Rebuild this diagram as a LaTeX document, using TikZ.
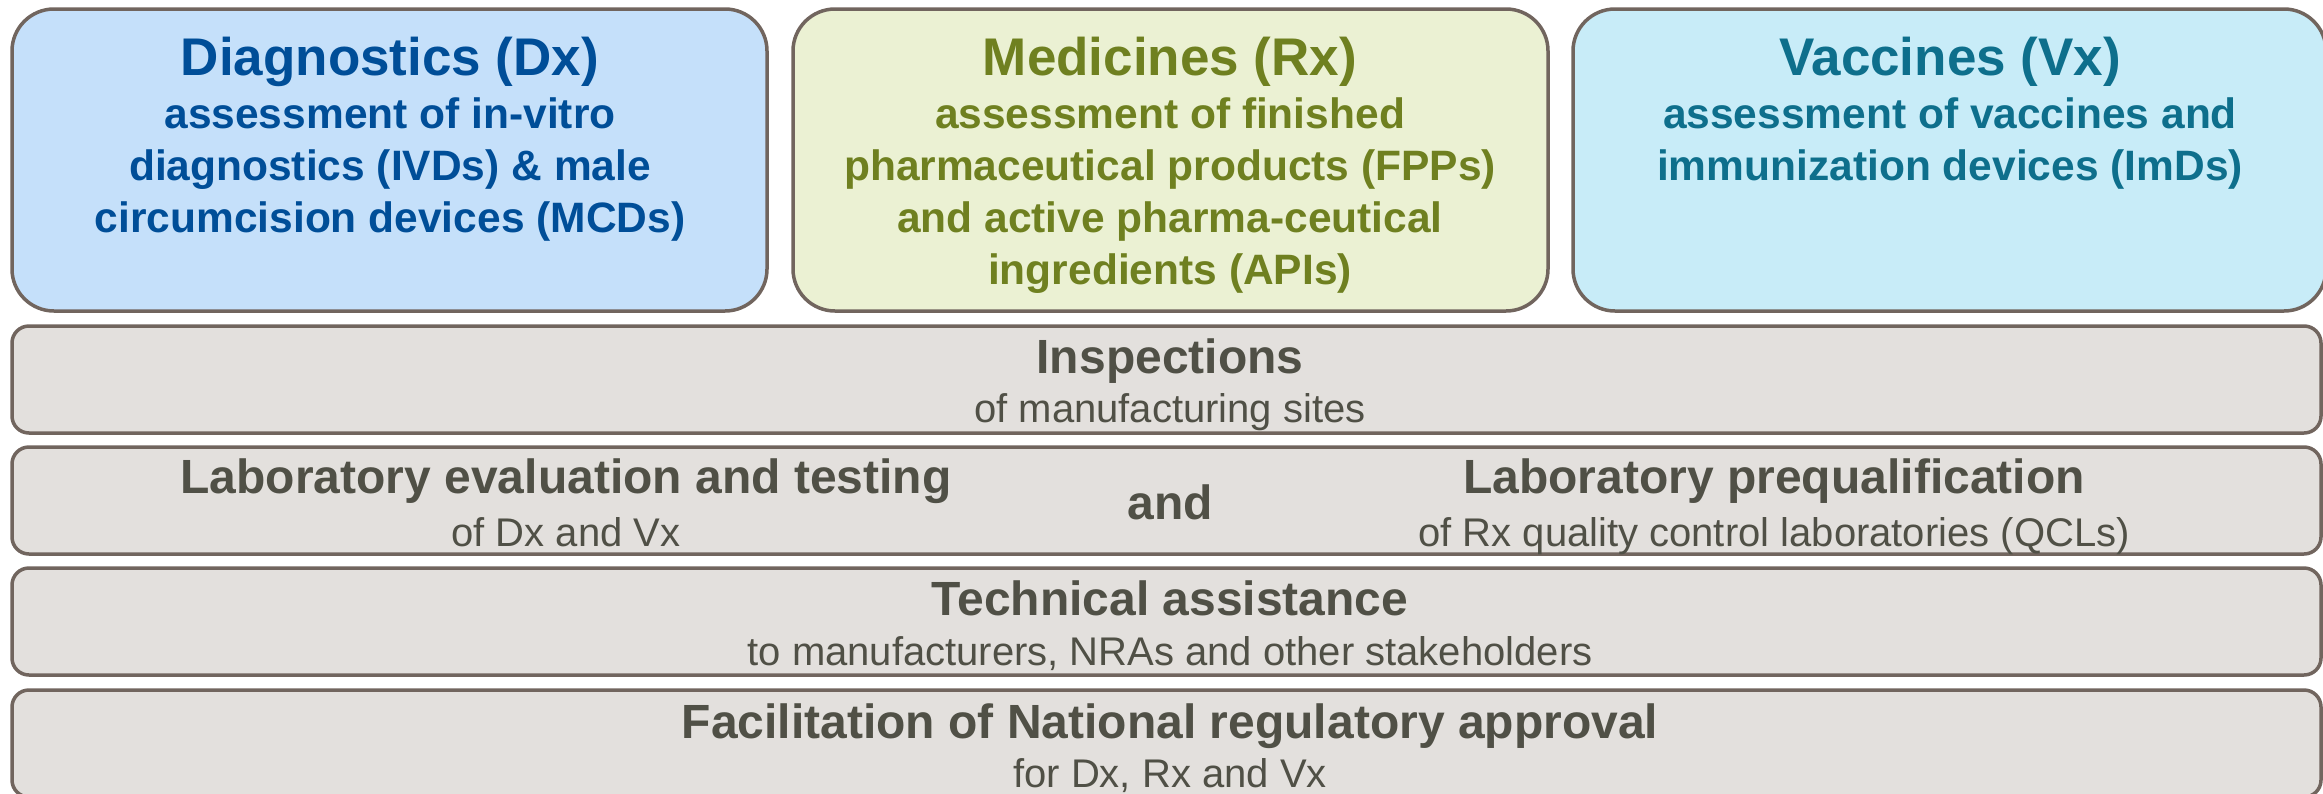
\documentclass[tikz,border=0pt]{standalone}
\usepackage{fontspec}
\setmainfont{Liberation Sans}
\definecolor{edge}{RGB}{113,101,94}
\definecolor{dxfill}{RGB}{197,224,250}
\definecolor{rxfill}{RGB}{235,241,211}
\definecolor{vxfill}{RGB}{200,236,248}
\definecolor{barfill}{RGB}{227,224,221}
\definecolor{dxtext}{RGB}{0,78,152}
\definecolor{rxtext}{RGB}{111,128,32}
\definecolor{vxtext}{RGB}{14,111,140}
\definecolor{bartext}{RGB}{80,80,70}
\begin{document}
\begin{tikzpicture}[x=1pt,y=-1pt,
  panel/.style={draw=edge, line width=3.5pt, rounded corners=42pt, minimum height=302pt, inner sep=0pt},
  bar/.style={draw=edge, line width=3.5pt, rounded corners=17pt, fill=barfill, minimum width=2309pt, minimum height=107pt, inner sep=0pt},
  txt/.style={anchor=base, inner sep=0pt},
  ttl/.style={txt, font=\fontsize{53}{60}\selectfont\bfseries},
  sub/.style={txt, font=\fontsize{42.5}{52}\selectfont\bfseries},
  btl/.style={txt, text=bartext, font=\fontsize{48}{56}\selectfont\bfseries},
  bsb/.style={txt, text=bartext, font=\fontsize{40}{48}\selectfont}]
\useasboundingbox (0,0) rectangle (2323,793);
\clip (0,0) rectangle (2323,793);
\fill[white] (0,0) rectangle (2323,793);
% top panels
\node[panel, fill=dxfill, minimum width=755pt] (dx) at (389.5,160) {};
\node[panel, fill=rxfill, minimum width=755pt] (rx) at (1170.5,160) {};
\node[panel, fill=vxfill, minimum width=753pt] (vx) at (1949.5,160) {};
% bars
\node[bar] (insp) at (1166.5,379.5) {};
\node[bar] (lab) at (1166.5,500.5) {};
\node[bar] (tech) at (1166.5,621.5) {};
\node[bar] (fac) at (1166.5,743.5) {};
% Dx text
\begin{scope}[text=dxtext]
\node[ttl] (dxt) at (390,75) {Diagnostics (Dx)};
\node[sub] (dx1) at (390,128) {assessment of in-vitro};
\node[sub] (dx2) at (390,180) {diagnostics (IVDs) \& male};
\node[sub] (dx3) at (390,232) {circumcision devices (MCDs)};
\end{scope}
% Rx text
\begin{scope}[text=rxtext]
\node[ttl] (rxt) at (1170,75) {Medicines (Rx)};
\node[sub] (rx1) at (1170,128) {assessment of finished};
\node[sub] (rx2) at (1170,180) {pharmaceutical products (FPPs)};
\node[sub] (rx3) at (1170,232) {and active pharma-ceutical};
\node[sub] (rx4) at (1170,284) {ingredients (APIs)};
\end{scope}
% Vx text
\begin{scope}[text=vxtext]
\node[ttl] (vxt) at (1950,75) {Vaccines (Vx)};
\node[sub] (vx1) at (1950,128) {assessment of vaccines and};
\node[sub] (vx2) at (1950,180) {immunization devices (ImDs)};
\end{scope}
% bar texts
\node[btl] (inspt) at (1170,373) {Inspections};
\node[bsb] (insps) at (1170,422) {of manufacturing sites};
\node[btl] (labt1) at (566,493) {Laboratory evaluation and testing};
\node[bsb] (labs1) at (566,546) {of Dx and Vx};
\node[btl] (and) at (1170,519) {and};
\node[btl] (labt2) at (1774,493) {Laboratory prequalification};
\node[bsb] (labs2) at (1774,546) {of Rx quality control laboratories (QCLs)};
\node[btl] (techt) at (1170,615) {Technical assistance};
\node[bsb] (techs) at (1170,665) {to manufacturers, NRAs and other stakeholders};
\node[btl] (fact) at (1170,738) {Facilitation of National regulatory approval};
\node[bsb] (facs) at (1170,787) {for Dx, Rx and Vx};
\end{tikzpicture}
\end{document}
